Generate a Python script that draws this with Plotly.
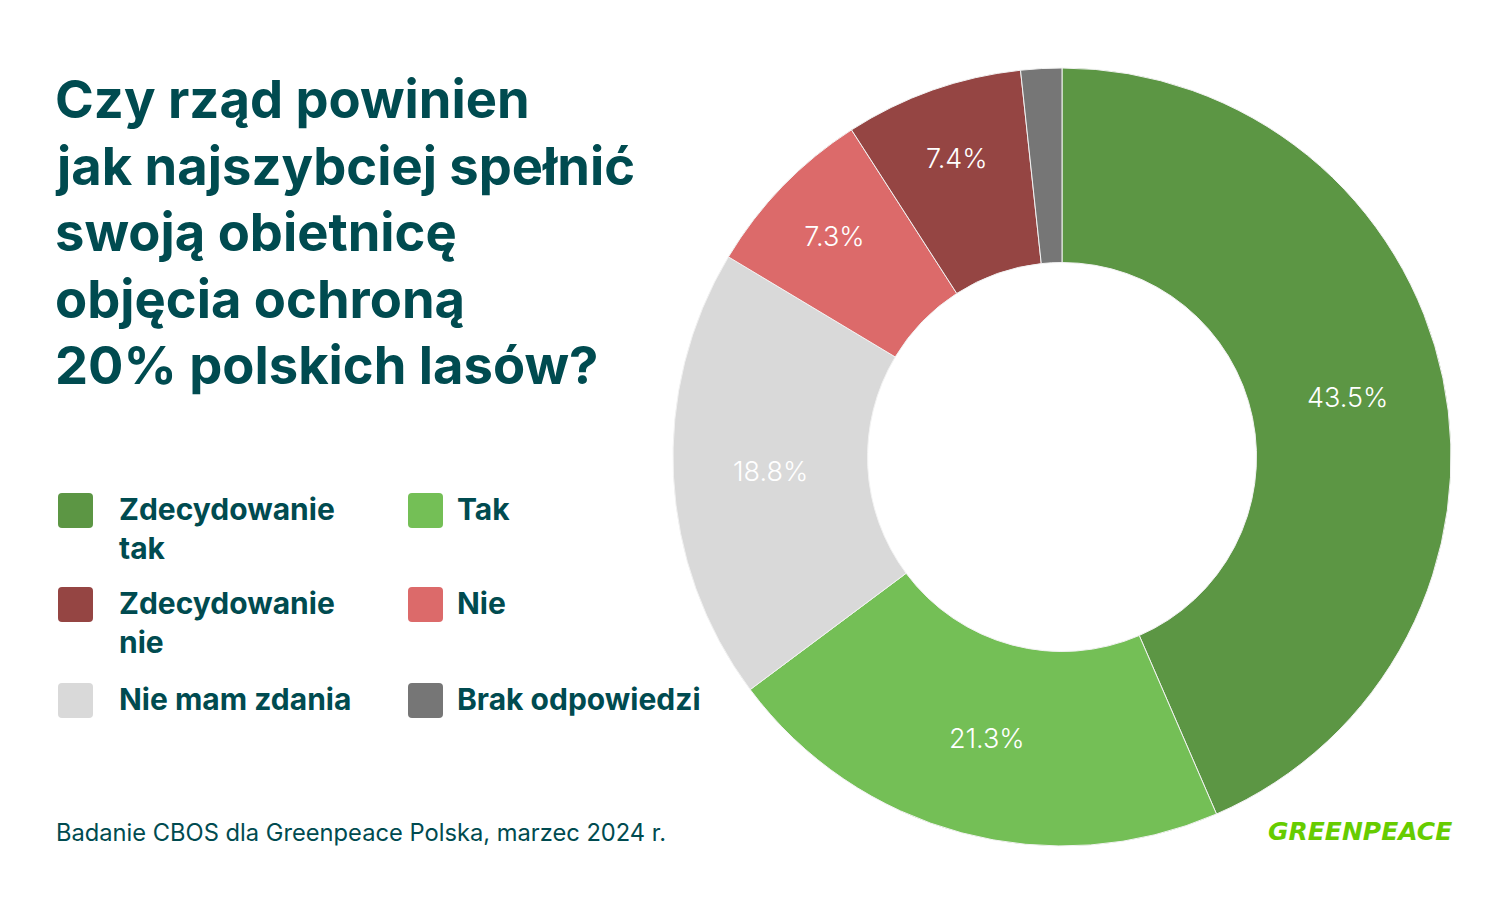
import plotly.graph_objects as go

categories = ["Zdecydowanie tak", "Tak", "Nie mam zdania", "Nie", "Zdecydowanie nie", "Brak odpowiedzi"]
values = [43.5, 21.3, 18.8, 7.3, 7.4, 1.7]
colors = ["#5c9644", "#74bf56", "#d9d9d9", "#dc6a6a", "#954543", "#767676"]
slice_text = ["43.5%", "21.3%", "18.8%", "7.3%", "7.4%", ""]

legend_labels = ["Zdecydowanie<br>tak", "Tak", "Zdecydowanie<br>nie", "Nie", "Nie mam zdania", "Brak odpowiedzi"]
legend_colors = ["#5c9644", "#74bf56", "#954543", "#dc6a6a", "#d9d9d9", "#767676"]

title_lines = ["Czy rząd powinien", "jak najszybciej spełnić", "swoją obietnicę", "objęcia ochroną", "20% polskich lasów?"]
source_text = "Badanie CBOS dla Greenpeace Polska, marzec 2024 r."

W, H = 1500, 900
TEAL = "#004b50"
FONT = "Inter"

def px(x):
    return x / W

def py(y):
    return 1 - y / H

fig = go.Figure()
fig.add_trace(go.Pie(
    labels=categories, values=values, text=slice_text,
    texttemplate="%{text}", textinfo="text",
    textposition="inside", insidetextorientation="horizontal",
    marker=dict(colors=colors, line=dict(color="#f2f2f2", width=1)),
    hole=0.5, sort=False, direction="clockwise", rotation=0,
    textfont=dict(family=FONT, size=27, color="white", weight=300),
    domain=dict(x=[px(1062 - 389), px(1062 + 389)], y=[py(457 + 389), py(457 - 389)]),
    showlegend=False, hoverinfo="label+percent",
))

annotations = []
shapes = []

for i, line in enumerate(title_lines):
    annotations.append(dict(
        text="<b>" + line + "</b>", x=px(53), y=py(99 + i * 66.5), xref="paper", yref="paper",
        xanchor="left", yanchor="middle", align="left", showarrow=False,
        font=dict(family=FONT, size=52.5, color=TEAL),
    ))

# legend grid
col_x = [58, 408]
row_y = [493, 587, 683]
for i, (lab, col) in enumerate(zip(legend_labels, legend_colors)):
    r, c = divmod(i, 2)
    x0 = col_x[c]
    y0 = row_y[r]
    s = 35
    rr = 4
    x1, y1 = x0 + s, y0 + s
    path = (
        f"M {px(x0 + rr)} {py(y0)} L {px(x1 - rr)} {py(y0)} Q {px(x1)} {py(y0)} {px(x1)} {py(y0 + rr)} "
        f"L {px(x1)} {py(y1 - rr)} Q {px(x1)} {py(y1)} {px(x1 - rr)} {py(y1)} "
        f"L {px(x0 + rr)} {py(y1)} Q {px(x0)} {py(y1)} {px(x0)} {py(y1 - rr)} "
        f"L {px(x0)} {py(y0 + rr)} Q {px(x0)} {py(y0)} {px(x0 + rr)} {py(y0)} Z"
    )
    shapes.append(dict(type="path", path=path, xref="paper", yref="paper",
                       fillcolor=col, line=dict(width=0)))
    tx = 117 if c == 0 else 455
    annotations.append(dict(
        text="<b>" + lab + "</b>", x=px(tx), y=py(y0 - 4), xref="paper", yref="paper",
        xanchor="left", yanchor="top", align="left", showarrow=False,
        font=dict(family=FONT, size=30, color=TEAL),
    ))

annotations.append(dict(
    text=source_text, x=px(54), y=py(832), xref="paper", yref="paper",
    xanchor="left", yanchor="middle", showarrow=False,
    font=dict(family=FONT, size=23.7, color=TEAL),
))

annotations.append(dict(
    text="<b><i>GREENPEACE</i></b>", x=px(1454), y=py(831), xref="paper", yref="paper",
    xanchor="right", yanchor="middle", showarrow=False,
    font=dict(family="DejaVu Sans", size=25, color="#66cc00"),
))

fig.update_layout(
    width=W, height=H,
    margin=dict(l=0, r=0, t=0, b=0),
    paper_bgcolor="white", plot_bgcolor="white",
    annotations=annotations, shapes=shapes,
    showlegend=False,
)

fig.write_html("out.html")
